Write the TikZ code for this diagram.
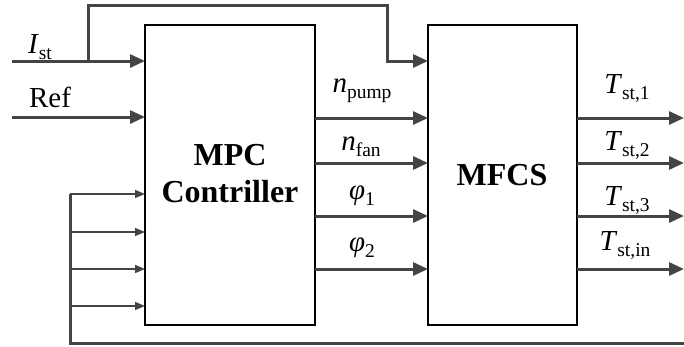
\documentclass[tikz,border=0pt]{standalone}
\usepackage{fontspec}
\setmainfont{Liberation Serif}
\usetikzlibrary{arrows.meta}
\definecolor{lg}{HTML}{444444}
\tikzset{
  blk/.style={draw=black, line width=2pt, fill=white},
  sig/.style={draw=lg, line width=3pt, -{Triangle[length=15pt,width=13pt]}},
  sigline/.style={draw=lg, line width=3pt},
  fb/.style={draw=lg, line width=1.6pt, -{Triangle[length=10pt,width=8pt]}},
  lbl/.style={anchor=base, inner sep=0pt, font=\fontsize{29}{31}\selectfont},
  big/.style={anchor=base, inner sep=0pt, font=\fontsize{32}{34}\selectfont\bfseries}
}
\newcommand{\mysub}[1]{\raisebox{-0.21em}{\fontsize{19.5}{21}\selectfont #1}}
\begin{document}
\begin{tikzpicture}[x=1pt,y=-1pt]
\useasboundingbox (0,0) rectangle (684,346);
% blocks
\draw[blk] (145,25) rectangle (315,325);
\draw[blk] (428,25) rectangle (577,325);
\node[big] (t1) at (230,165) {MPC};
\node[big] (t2) at (230,202) {Contriller};
\node[big] (t3) at (502,185) {MFCS};
% inputs
\coordinate (ist0) at (12,61);
\coordinate (ist1) at (145,61);
\coordinate (ref0) at (12,117);
\coordinate (ref1) at (145,117);
\coordinate (br) at (88,61);
\coordinate (tp1) at (88,5);
\coordinate (tp2) at (387,5);
\coordinate (tp3) at (387,61);
\coordinate (tp4) at (428,61);
\draw[sig] (ist0) -- (ist1);
\draw[sig] (ref0) -- (ref1);
\draw[sig, line join=miter] (br) -- (tp1) -- (tp2) -- (tp3) -- (tp4);
\node[lbl] (list) at (40,53) {\textit{I}\mysub{st}};
\node[lbl] (lref) at (50,107) {Ref};
% MPC outputs
\foreach \y/\n in {118/a,163/b,216/c,269/d}{
  \coordinate (o\n) at (315,\y);
  \coordinate (i\n) at (428,\y);
  \draw[sig] (o\n) -- (i\n);
}
\node[lbl] (lnp) at (362,92) {\textit{n}\mysub{pump}};
\node[lbl] (lnf) at (361,150) {\textit{n}\mysub{fan}};
\node[lbl] (lp1) at (362,199) {\textit{φ}\mysub{1}};
\node[lbl] (lp2) at (362,251) {\textit{φ}\mysub{2}};
% MFCS outputs
\foreach \y/\n in {118/a,163/b,216/c,269/d}{
  \coordinate (m\n) at (577,\y);
  \coordinate (e\n) at (684,\y);
  \draw[sig] (m\n) -- (e\n);
}
\node[lbl] (lt1) at (627,93) {\textit{T}\mysub{st,1}};
\node[lbl] (lt2) at (627,150) {\textit{T}\mysub{st,2}};
\node[lbl] (lt3) at (627,205) {\textit{T}\mysub{st,3}};
\node[lbl] (lt4) at (625,250) {\textit{T}\mysub{st,in}};
% feedback
\coordinate (fbtop) at (70,194);
\coordinate (fbbot) at (70,343);
\coordinate (fbend) at (684,343);
\draw[sigline, line join=miter] (fbtop) -- (fbbot) -- (fbend);
\foreach \y/\n in {194/a,232/b,269/c,306/d}{
  \coordinate (f\n) at (70,\y);
  \coordinate (g\n) at (145,\y);
  \draw[fb] (f\n) -- (g\n);
}
\end{tikzpicture}
\end{document}
